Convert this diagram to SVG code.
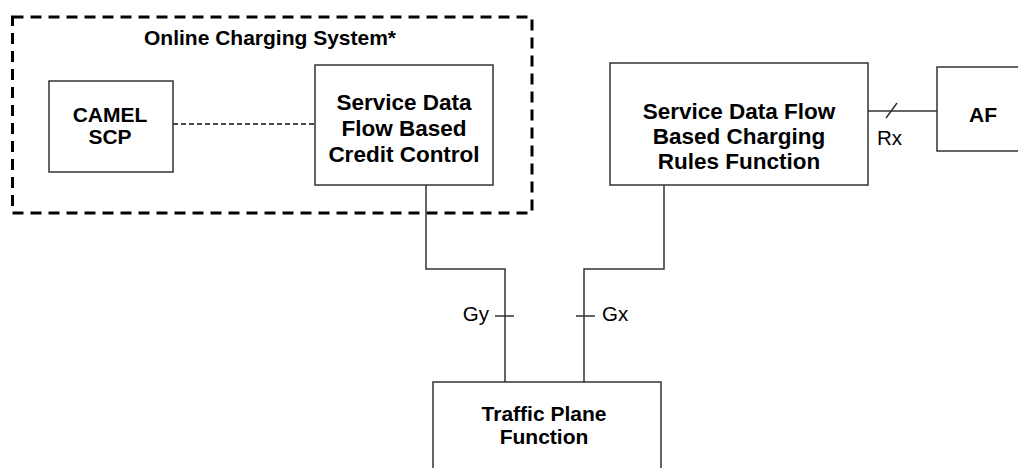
<svg xmlns="http://www.w3.org/2000/svg" width="1018" height="468" viewBox="0 0 1018 468">
<style>
.box{fill:#fff;stroke:#333;stroke-width:1.5}
.t{font-family:"Liberation Sans",Arial,sans-serif;font-weight:bold;font-size:21px;fill:#000;text-anchor:middle}
.b{font-size:22.5px}
.l{font-family:"Liberation Sans",Arial,sans-serif;font-size:20.5px;fill:#000}
.c{fill:none;stroke:#333;stroke-width:1.5}
</style>
<rect width="1018" height="468" fill="#fff"/>
<g id="ocs">
<rect x="12.5" y="17" width="519.5" height="196" fill="none" stroke="#000" stroke-width="3" stroke-dasharray="11,7"/>
<text class="t" x="270" y="45">Online Charging System*</text>
</g>
<g id="connectors">
<line x1="173" y1="124" x2="315" y2="124" stroke="#111" stroke-width="1.3" stroke-dasharray="5,3"/>
<polyline class="c" points="426,185 426,269 505,269 505,382"/>
<polyline class="c" points="664,185 664,269 584,269 584,382"/>
<line class="c" x1="495" y1="316" x2="514" y2="316"/>
<line class="c" x1="576" y1="316" x2="595" y2="316"/>
<line class="c" x1="868" y1="111" x2="937" y2="111"/>
<line class="c" x1="886" y1="118" x2="897" y2="103"/>
<text class="l" x="489" y="321" text-anchor="end">Gy</text>
<text class="l" x="602" y="321">Gx</text>
<text class="l" x="877" y="145">Rx</text>
</g>
<g id="camel">
<rect class="box" x="49" y="81" width="124" height="91"/>
<text class="t" x="110" y="122">CAMEL</text>
<text class="t" x="110" y="144">SCP</text>
</g>
<g id="sdfbcc">
<rect class="box" x="315" y="65" width="178" height="120"/>
<text class="t b" x="404" y="109.5">Service Data</text>
<text class="t b" x="404" y="135.5">Flow Based</text>
<text class="t b" x="404" y="161.5">Credit Control</text>
</g>
<g id="crf">
<rect class="box" x="610" y="63" width="258" height="122"/>
<text class="t b" x="739" y="119">Service Data Flow</text>
<text class="t b" x="739" y="144">Based Charging</text>
<text class="t b" x="739" y="169">Rules Function</text>
</g>
<g id="af">
<rect class="box" x="937" y="67" width="100" height="84"/>
<text class="t" x="983" y="122">AF</text>
</g>
<g id="tpf">
<rect class="box" x="433" y="382" width="228" height="100"/>
<text class="t" x="544" y="421">Traffic Plane</text>
<text class="t" x="544" y="444">Function</text>
</g>
</svg>
